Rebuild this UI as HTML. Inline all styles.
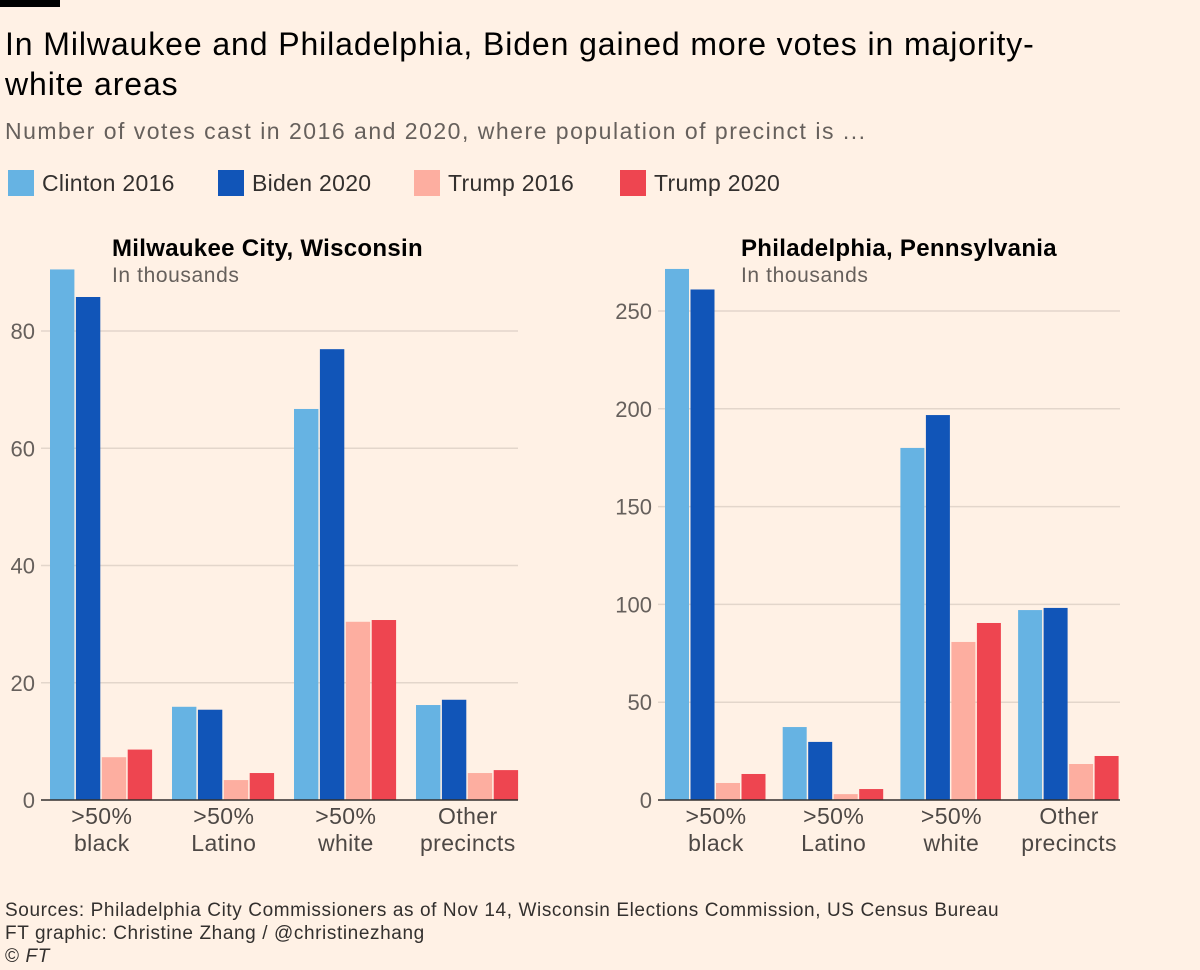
<!DOCTYPE html>
<html><head><meta charset="utf-8"><style>
body{margin:0;background:#fff1e5;font-family:"Liberation Sans",sans-serif;}
#root{position:relative;width:1200px;height:970px;background:#fff1e5;overflow:hidden}
.t{position:absolute;white-space:nowrap}
.leg{position:absolute;top:170px;height:26px;display:flex;align-items:center;font-size:23px;color:#33302e;letter-spacing:0.3px}
.sw{width:26px;height:26px;margin-right:8px}
</style></head><body>
<div id="root">
<div style="position:absolute;left:0;top:0;width:60px;height:7px;background:#000"></div>
<div class="t" style="left:5px;top:24px;font-size:32px;line-height:40px;color:#000;letter-spacing:0.9px">In Milwaukee and Philadelphia, Biden gained more votes in majority-<br>white areas</div>
<div class="t" style="left:5px;top:118px;font-size:23px;color:#66605c;letter-spacing:1.5px">Number of votes cast in 2016 and 2020, where population of precinct is ...</div>
<div class="leg" style="left:8px"><div class="sw" style="background:#66b3e3"></div>Clinton 2016</div>
<div class="leg" style="left:218px"><div class="sw" style="background:#1155b8"></div>Biden 2020</div>
<div class="leg" style="left:414px"><div class="sw" style="background:#fdaea0"></div>Trump 2016</div>
<div class="leg" style="left:620px"><div class="sw" style="background:#ee4550"></div>Trump 2020</div>
<svg id="svg" width="1200" height="970" style="position:absolute;left:0;top:0"></svg>
<div class="t" style="left:5px;top:899px;font-size:19px;line-height:23px;color:#33302e;letter-spacing:0.6px">Sources: Philadelphia City Commissioners as of Nov 14, Wisconsin Elections Commission, US Census Bureau<br>FT graphic: Christine Zhang / @christinezhang<br>© <i>FT</i></div>
</div>
<script>
const categories=[">50%|black",">50%|Latino",">50%|white","Other|precincts"];
const seriesNames=["Clinton 2016","Biden 2020","Trump 2016","Trump 2020"];
const milClinton16=[90.5,15.9,66.7,16.2];
const milBiden20=[85.8,15.4,76.9,17.1];
const milTrump16=[7.3,3.4,30.4,4.6];
const milTrump20=[8.6,4.6,30.7,5.1];
const milTicks=[0,20,40,60,80];
const phiClinton16=[271.5,37.3,180,97.1];
const phiBiden20=[261,29.7,196.8,98.2];
const phiTrump16=[8.7,3,80.8,18.4];
const phiTrump20=[13.3,5.6,90.5,22.5];
const phiTicks=[0,50,100,150,200,250];
const colors=["#66b3e3","#1155b8","#fdaea0","#ee4550"];
const svg=document.getElementById('svg');
const NS="http://www.w3.org/2000/svg";
function mk(tag,a){const e=document.createElementNS(NS,tag);for(const k in a)e.setAttribute(k,a[k]);svg.appendChild(e);return e;}
function panel(p){
  const y=v=>800-v*p.scale;
  const g0=p.gx0,g1=p.gx1;
  p.ticks.forEach(t=>{
    if(t>0){const l=mk('line',{x1:g0,x2:g1,y1:y(t),y2:y(t),stroke:'#e3d6cb','stroke-width':1.5});
    }
    const tx=mk('text',{x:p.lx,y:y(t)+8,'text-anchor':'end','font-size':22,fill:'#66605c','font-family':'Liberation Sans'});
    tx.textContent=t;
    
  });
  const series=p.series;
  const bw=p.bs-1.5;
  categories.forEach((c,i)=>{
    const gx=p.x0+i*p.gs;
    series.forEach((s,j)=>{
      const r=mk('rect',{x:gx+j*p.bs,y:y(s[i]),width:bw,height:s[i]*p.scale,fill:colors[j]});
      
      
    });
    const parts=c.split('|');
    parts.forEach((tt,k)=>{
      const tx=mk('text',{x:gx+2*p.bs,y:824+k*27,'text-anchor':'middle','font-size':23,fill:'#4d4845','font-family':'Liberation Sans','letter-spacing':0.4});
      tx.textContent=tt;
      
    });
  });
  const ax=mk('line',{x1:g0,x2:g1,y1:800,y2:800,stroke:'#33302e','stroke-width':1.5});
  
  const t1=mk('text',{x:p.tx,y:256,'font-size':24,fill:'#000','font-family':'Liberation Sans','font-weight':'bold','letter-spacing':0.3});
  t1.textContent=p.title;
  
  const t2=mk('text',{x:p.tx,y:282,'font-size':21,fill:'#66605c','font-family':'Liberation Sans','letter-spacing':0.6});
  t2.textContent='In thousands';
  
}
panel({scale:5.8625,ticks:milTicks,gx0:41,gx1:518,lx:35,x0:50,gs:122,bs:25.9,tx:112,title:'Milwaukee City, Wisconsin',series:[milClinton16,milBiden20,milTrump16,milTrump20]});
panel({scale:1.956,ticks:phiTicks,gx0:658,gx1:1120,lx:652,x0:665,gs:117.7,bs:25.5,tx:741,title:'Philadelphia, Pennsylvania',series:[phiClinton16,phiBiden20,phiTrump16,phiTrump20]});
</script>
</body></html>
